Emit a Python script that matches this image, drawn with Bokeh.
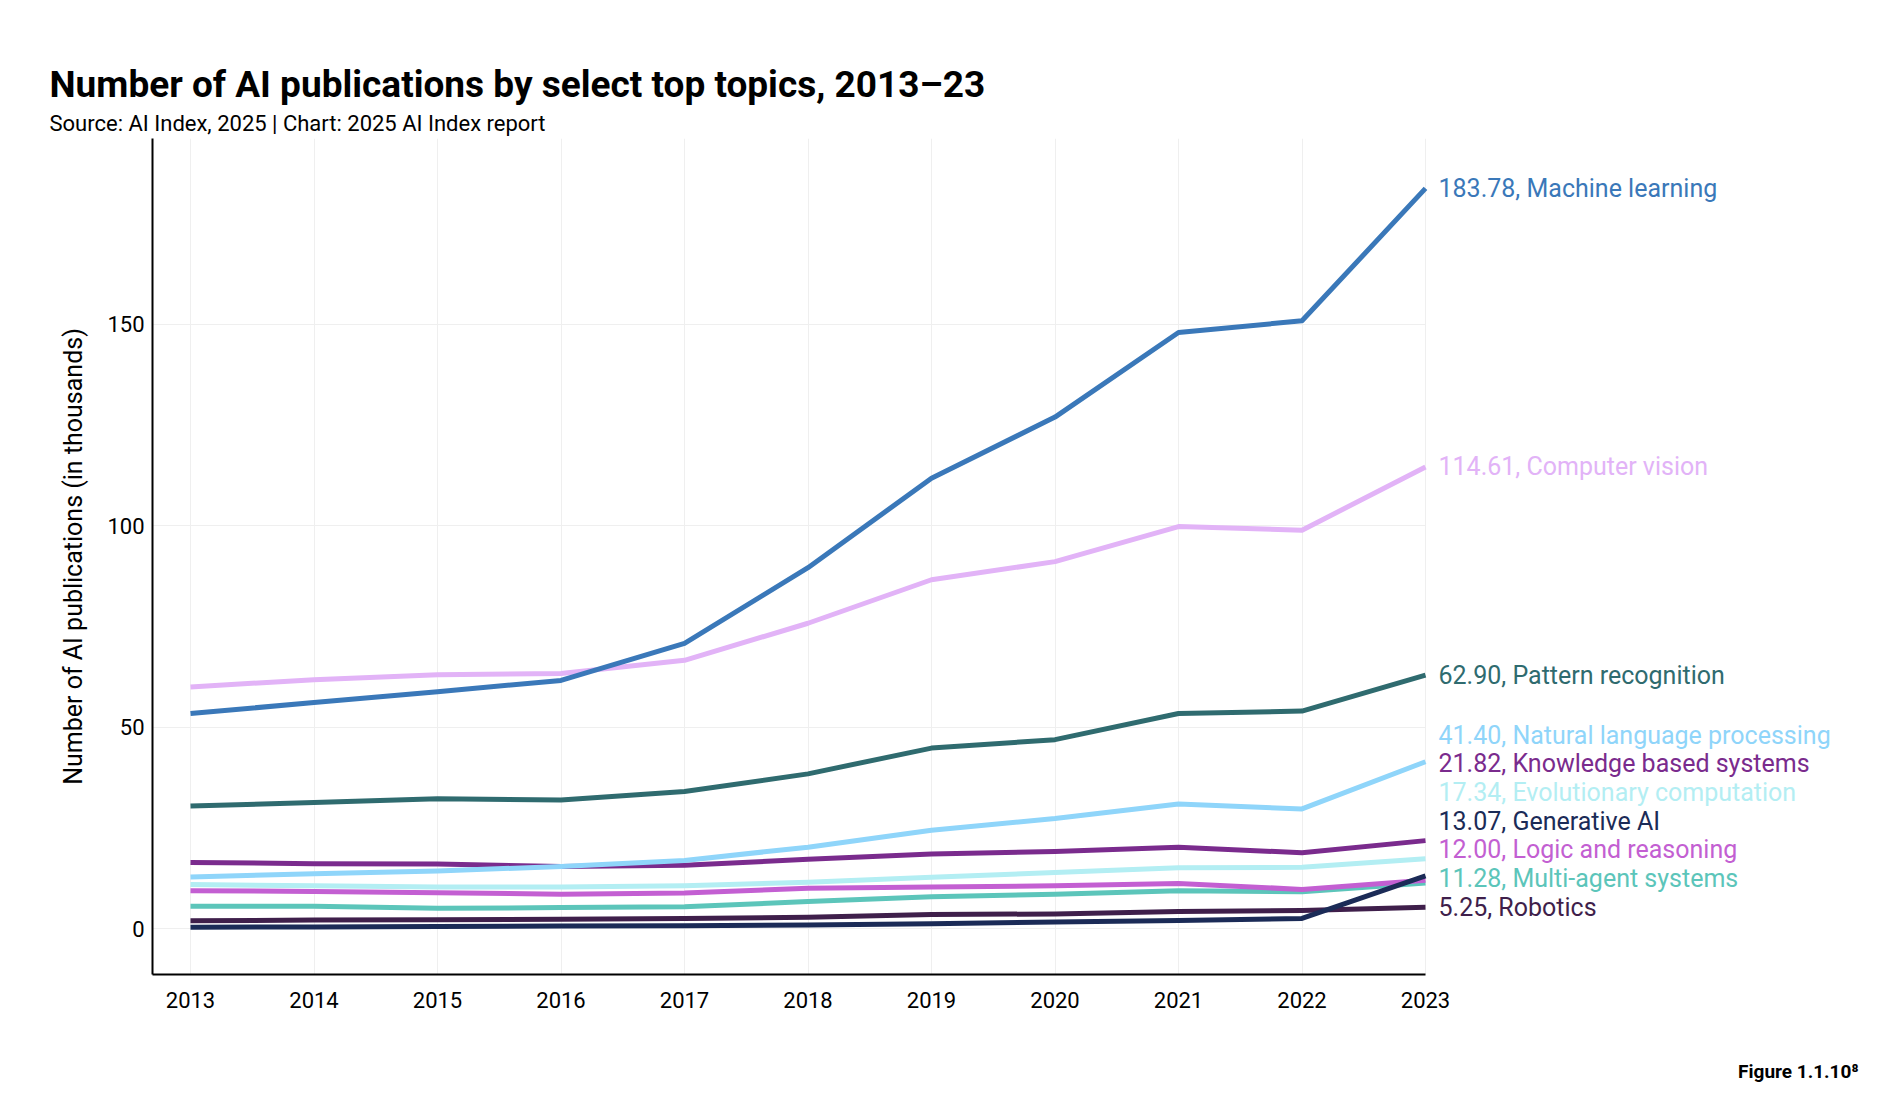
from bokeh.plotting import figure
from bokeh.layouts import column
from bokeh.models import Range1d, FixedTicker, Label, ColumnDataSource, LabelSet, Grid, Title
from bokeh.core.properties import value
from bokeh.embed import file_html
from bokeh.resources import INLINE

# ---------------- data (thousands of publications) ----------------
years = [2013, 2014, 2015, 2016, 2017, 2018, 2019, 2020, 2021, 2022, 2023]

topics = [
    "Machine learning", "Computer vision", "Pattern recognition",
    "Natural language processing", "Knowledge based systems",
    "Evolutionary computation", "Generative AI", "Logic and reasoning",
    "Multi-agent systems", "Robotics",
]

machine_learning = [53.4, 56.1, 58.8, 61.6, 70.8, 89.6, 111.8, 127.0, 148.0, 150.9, 183.78]
computer_vision = [60.0, 61.8, 63.0, 63.3, 66.6, 75.8, 86.6, 91.1, 99.8, 98.9, 114.61]
pattern_recognition = [30.4, 31.3, 32.2, 31.9, 34.0, 38.4, 44.8, 46.9, 53.4, 54.0, 62.90]
natural_language = [12.8, 13.6, 14.3, 15.4, 16.9, 20.2, 24.4, 27.3, 30.9, 29.7, 41.40]
knowledge_based = [16.4, 16.1, 16.0, 15.4, 15.7, 17.2, 18.5, 19.1, 20.2, 18.8, 21.82]
evolutionary = [10.9, 10.6, 10.3, 10.3, 10.6, 11.5, 12.7, 13.9, 15.1, 15.2, 17.34]
generative_ai = [0.3, 0.4, 0.5, 0.6, 0.7, 0.9, 1.2, 1.6, 2.0, 2.5, 13.07]
logic_reasoning = [9.4, 9.2, 8.9, 8.5, 8.8, 10.0, 10.3, 10.6, 11.2, 9.7, 12.00]
multi_agent = [5.5, 5.5, 5.0, 5.2, 5.4, 6.7, 7.9, 8.5, 9.4, 9.1, 11.28]
robotics = [1.9, 2.1, 2.2, 2.3, 2.5, 2.8, 3.5, 3.6, 4.2, 4.5, 5.25]

series = [machine_learning, computer_vision, pattern_recognition, natural_language,
          knowledge_based, evolutionary, generative_ai, logic_reasoning,
          multi_agent, robotics]

colors = ["#3a78b9", "#e2b3f7", "#2f6b6f", "#8fd5fa", "#7a2b8d",
          "#b3eef3", "#1b2b57", "#c35fd2", "#5cc5ba", "#3f1f4b"]

y_ticks = [0, 50, 100, 150]

title_text = "Number of AI publications by select top topics, 2013\u201323"
subtitle_text = "Source: AI Index, 2025 | Chart: 2025 AI Index report"
y_label = "Number of AI publications (in thousands)"
footer_text = "Figure 1.1.10\u2078"

# ---------------- layout geometry (pixels) ----------------
W = 1878
TOP = 138
FRAME_L, FRAME_R = 152, 1870          # main frame, labels live inside it
FRAME_H = 836                         # 138 -> 974
BOTTOM = 60
FOOTER_H = 66
PX_PER_YEAR = 123.5
PX_PER_UNIT = 4.027
ZERO_FROM_TOP = 790                   # y=0 sits 790 px below frame top
LAST = years[-1]
TEXT_LEFT = 49

X0 = LAST - (1425 - FRAME_L) / PX_PER_YEAR
X1 = X0 + (FRAME_R - FRAME_L) / PX_PER_YEAR
Y1 = ZERO_FROM_TOP / PX_PER_UNIT
Y0 = Y1 - FRAME_H / PX_PER_UNIT

# ---------------- main chart ----------------
p = figure(width=W, height=TOP + FRAME_H + BOTTOM, output_backend="svg",
           toolbar_location=None, x_range=Range1d(X0, X1), y_range=Range1d(Y0, Y1),
           min_border_left=FRAME_L, min_border_right=W - FRAME_R,
           min_border_top=TOP, min_border_bottom=BOTTOM, title=None)
p.outline_line_color = None

# header texts (first added sits next to the frame)
p.add_layout(Title(text=subtitle_text, align="left", offset=TEXT_LEFT - FRAME_L,
                   text_font="Roboto", text_font_size="22px",
                   text_font_style="normal", text_color="black", standoff=6), "above")
p.add_layout(Title(text=title_text, align="left", offset=TEXT_LEFT - FRAME_L,
                   text_font="Roboto", text_font_size="37px",
                   text_font_style="bold", text_color="black", standoff=0), "above")

for ax in (p.xaxis[0], p.yaxis[0]):
    ax.axis_line_color = "black"
    ax.axis_line_width = 2
    ax.major_tick_line_color = None
    ax.minor_tick_line_color = None
    ax.major_tick_out = 0
    ax.major_tick_in = 0
    ax.minor_tick_out = 0
    ax.major_label_text_font = "Roboto"
    ax.major_label_text_font_size = "22px"
    ax.major_label_text_color = "black"

p.xaxis.ticker = FixedTicker(ticks=years)
p.xaxis.bounds = (X0, LAST)
p.xaxis.major_label_standoff = 17
p.yaxis.ticker = FixedTicker(ticks=y_ticks)
p.yaxis.bounds = (Y0, Y1)
p.yaxis.major_label_standoff = 8
p.yaxis.axis_label = y_label
p.yaxis.axis_label_text_font = "Roboto"
p.yaxis.axis_label_text_font_size = "25px"
p.yaxis.axis_label_text_font_style = "normal"
p.yaxis.axis_label_text_color = "black"
p.yaxis.axis_label_standoff = 16

p.xgrid.ticker = FixedTicker(ticks=years)
p.ygrid.ticker = FixedTicker(ticks=y_ticks)
for g in (p.xgrid[0], p.ygrid[0]):
    g.grid_line_color = "#efefef"
    g.grid_line_width = 1
p.xgrid.bounds = (X0, LAST)
if "cross_bounds" in Grid.properties():
    p.ygrid.cross_bounds = (X0, LAST)
else:
    p.ygrid.grid_line_color = None
    p.segment(x0=[X0] * len(y_ticks), x1=[LAST] * len(y_ticks), y0=y_ticks,
              y1=y_ticks, line_color="#efefef", line_width=1, level="underlay")

draw_order = [9, 8, 7, 5, 4, 3, 2, 1, 0, 6]
for i in draw_order:
    p.line(years, series[i], line_color=colors[i], line_width=5, line_join="round")

# end labels, de-overlapped from the bottom up
gap = 7.13
order = sorted(range(len(series)), key=lambda i: series[i][-1])
label_y = {}
prev = None
for i in order:
    v = series[i][-1]
    pos = v if prev is None else max(v, prev + gap)
    label_y[i] = pos
    prev = pos

src = ColumnDataSource(dict(
    x=[LAST] * len(series),
    y=[label_y[i] for i in range(len(series))],
    text=[f"{series[i][-1]:.2f}, {topics[i]}" for i in range(len(series))],
    color=colors,
))
p.add_layout(LabelSet(x="x", y="y", text="text", source=src, x_offset=13,
                      text_color="color", text_font=value("Roboto"),
                      text_font_size=value("25px"), text_baseline="middle",
                      text_align="left"))

# ---------------- footer (its frame lines up with the chart frame) ----------------
footer = figure(width=W, height=FOOTER_H, output_backend="svg", toolbar_location=None,
                x_range=Range1d(FRAME_L, FRAME_R), y_range=Range1d(FOOTER_H, 0),
                x_axis_type=None, y_axis_type=None, min_border=0, title=None)
footer.outline_line_color = None
footer.add_layout(Label(x=1858, y=37, text=footer_text, text_font="Roboto",
                        text_font_size="19px", text_font_style="bold",
                        text_color="black", text_baseline="alphabetic",
                        text_align="right"))

layout = column(p, footer, spacing=0)
open("out.html", "w").write(file_html(layout, INLINE))
